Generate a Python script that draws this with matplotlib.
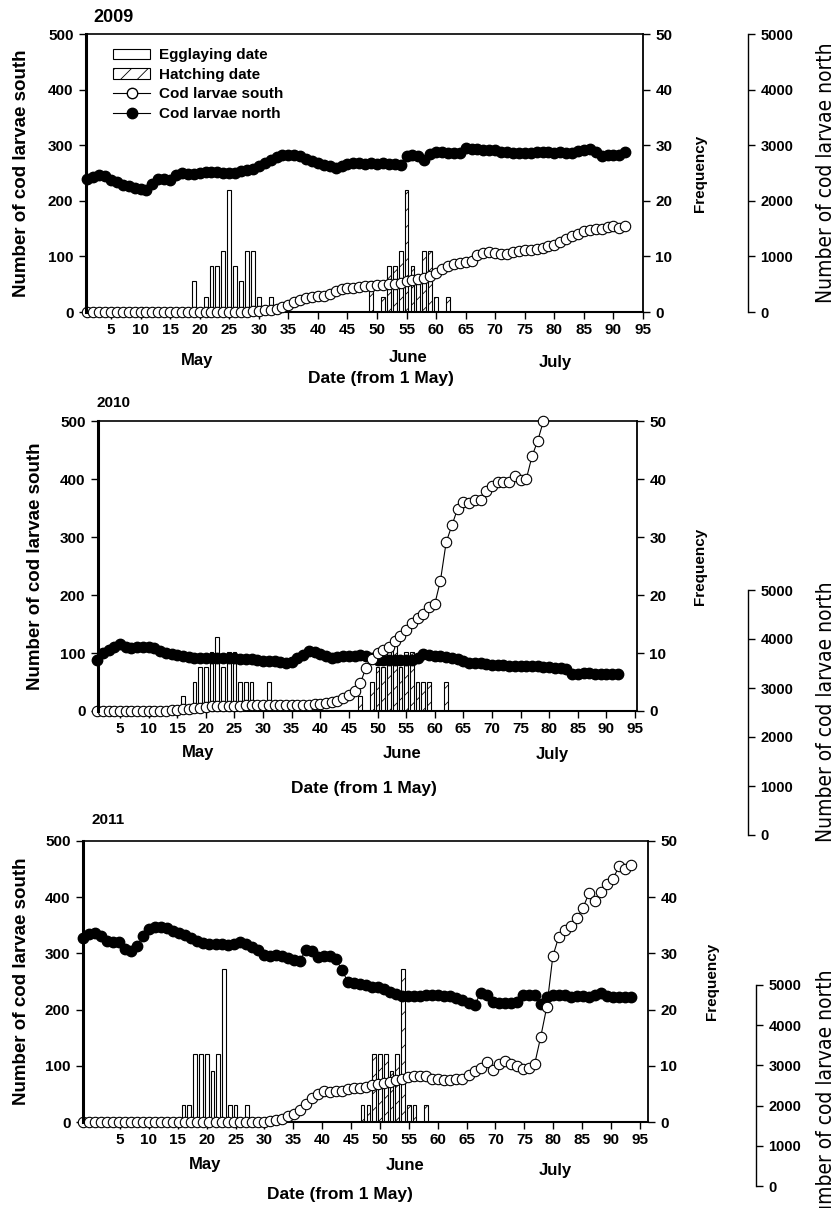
import numpy as np
import matplotlib.pyplot as plt
from matplotlib import font_manager
from matplotlib.font_manager import FontProperties
from matplotlib.lines import Line2D
from matplotlib.patches import Patch

W, H = 837, 1208

plt.rcParams.update({
    "font.family": ["Liberation Sans", "DejaVu Sans"],
    "font.weight": "bold",
    "font.size": 11,
    "hatch.linewidth": 0.6,
    "xtick.direction": "out",
    "ytick.direction": "out",
    "xtick.major.size": 5,
    "ytick.major.size": 5,
    "xtick.major.width": 1.0,
    "ytick.major.width": 1.0,
    "xtick.major.pad": 3,
    "ytick.major.pad": 4,
})

# narrow font for the far right labels, if one is installed
NARROW = {"family": "Liberation Sans", "fontweight": "normal", "fontsize": 15}
try:
    font_manager.findfont("Liberation Sans Narrow", fallback_to_default=False)
    NARROW = {"family": "Liberation Sans Narrow", "fontweight": "normal", "fontsize": 18}
except ValueError:
    path = font_manager.findfont(FontProperties(family="DejaVu Sans", stretch="condensed"))
    if "Condensed" in path:
        NARROW = {"family": "DejaVu Sans", "stretch": "condensed",
                  "fontweight": "normal", "fontsize": 15}

days = np.arange(1, 93)

# ---------------- 2009 ----------------
south_2009 = [0] * 28 + [
    1, 2, 3, 4, 6, 9, 13, 18, 22, 25,
    27, 28, 29, 32, 38, 42, 44, 44, 45, 46,
    47, 48, 49, 50, 51, 53, 55, 57, 59, 62,
    65, 70, 77, 82, 86, 88, 90, 92, 103, 107,
    108, 106, 104, 105, 108, 110, 111, 112, 113, 116,
    118, 120, 126, 131, 136, 141, 145, 148, 149, 149,
    153, 154, 151, 155]
north_2009 = [
    2400, 2430, 2460, 2440, 2380, 2330, 2290, 2260, 2230, 2210,
    2200, 2300, 2390, 2400, 2380, 2460, 2500, 2490, 2490, 2500,
    2520, 2520, 2510, 2500, 2500, 2500, 2530, 2550, 2580, 2630,
    2680, 2730, 2780, 2820, 2830, 2820, 2800, 2760, 2710, 2680,
    2650, 2620, 2590, 2630, 2660, 2680, 2680, 2670, 2680, 2670,
    2680, 2670, 2670, 2650, 2810, 2830, 2810, 2740, 2850, 2870,
    2870, 2860, 2860, 2860, 2950, 2940, 2930, 2920, 2920, 2910,
    2880, 2870, 2860, 2860, 2860, 2860, 2870, 2880, 2870, 2860,
    2870, 2860, 2860, 2900, 2920, 2930, 2880, 2810, 2820, 2830,
    2830, 2880]
egg_days_2009 = [19, 21, 22, 23, 24, 25, 26, 27, 28, 29, 30, 32]
egg_freq_2009 = [5.5, 2.75, 8.25, 8.25, 11, 22, 8.25, 5.5, 11, 11, 2.75, 2.75]
hatch_days_2009 = [49, 51, 52, 53, 54, 55, 56, 57, 58, 59, 60, 62]
hatch_freq_2009 = [5.5, 2.75, 8.25, 8.25, 11, 22, 8.25, 5.5, 11, 11, 2.75, 2.75]

# ---------------- 2010 ----------------
south_days_2010 = np.arange(1, 80)
south_2010 = [0] * 13 + [
    1, 2, 3, 4, 5, 6, 7, 8, 8, 9,
    9, 9, 9, 10, 10, 10, 10, 10, 10, 10,
    10, 11, 11, 11, 11, 12, 12, 13, 15, 18,
    22, 27, 35, 48, 75, 90, 100, 106, 110, 120,
    130, 139, 151, 160, 168, 180, 184, 225, 291, 320,
    349, 360, 359, 363, 364, 380, 388, 395, 395, 395,
    405, 398, 400, 439, 466, 500]
north_2010 = [
    880, 1000, 1060, 1100, 1150, 1110, 1080, 1100, 1110, 1110,
    1080, 1040, 1000, 980, 960, 940, 930, 910, 910, 910,
    910, 910, 910, 910, 910, 900, 900, 890, 880, 870,
    870, 860, 840, 830, 840, 920, 970, 1040, 1020, 980,
    940, 920, 930, 940, 950, 950, 960, 940, 910, 880,
    880, 880, 880, 880, 880, 880, 920, 990, 970, 950,
    940, 930, 920, 900, 860, 830, 820, 820, 810, 800,
    790, 790, 780, 780, 780, 770, 770, 770, 760, 760,
    750, 740, 720, 630, 640, 650, 650, 630, 630, 640,
    630, 640]
egg_days_2010 = [16, 18, 19, 20, 21, 22, 23, 24, 25, 26, 27, 28, 31]
egg_freq_2010 = [2.54, 5.08, 7.62, 7.62, 10.16, 12.7, 7.62, 10.16, 10.16,
                 5.08, 5.08, 5.08, 5.08]
hatch_days_2010 = [47, 49, 50, 51, 52, 53, 54, 55, 56, 57, 58, 59, 62]
hatch_freq_2010 = [2.54, 5.08, 7.62, 7.62, 10.16, 12.7, 7.62, 10.16, 10.16,
                   5.08, 5.08, 5.08, 5.08]

# ---------------- 2011 ----------------
south_2011 = [0] * 31 + [
    1, 3, 6, 10, 15, 22, 32, 42, 50, 55,
    54, 55, 55, 58, 60, 61, 63, 65, 68, 70,
    71, 74, 77, 80, 82, 82, 82, 77, 76, 74,
    75, 76, 76, 83, 91, 96, 106, 92, 104, 109,
    104, 100, 95, 96, 104, 152, 205, 295, 330, 342,
    349, 363, 381, 407, 393, 409, 423, 433, 455, 451,
    457]
north_2011 = [
    3280, 3340, 3360, 3310, 3220, 3200, 3210, 3080, 3050, 3140,
    3310, 3430, 3470, 3470, 3450, 3390, 3370, 3330, 3270, 3220,
    3180, 3170, 3170, 3170, 3150, 3170, 3200, 3170, 3120, 3060,
    2970, 2960, 2980, 2960, 2920, 2880, 2870, 3060, 3040, 2930,
    2960, 2960, 2900, 2700, 2490, 2470, 2460, 2440, 2410, 2400,
    2360, 2310, 2270, 2250, 2240, 2240, 2250, 2260, 2260, 2260,
    2240, 2250, 2210, 2170, 2110, 2080, 2290, 2260, 2140, 2110,
    2110, 2110, 2140, 2260, 2260, 2260, 2100, 2230, 2260, 2260,
    2260, 2230, 2240, 2240, 2230, 2260, 2290, 2240, 2230, 2230,
    2220, 2220]
egg_days_2011 = [16, 17, 18, 19, 20, 21, 22, 23, 24, 25, 27]
egg_freq_2011 = [3.03, 3.03, 12.12, 12.12, 12.12, 9.09, 12.12, 27.27, 3.03, 3.03, 3.03]
hatch_days_2011 = [47, 48, 49, 50, 51, 52, 53, 54, 55, 56, 58]
hatch_freq_2011 = [3.03, 3.03, 12.12, 12.12, 12.12, 9.09, 12.12, 27.27, 3.03, 3.03, 3.03]

fig = plt.figure(figsize=(W / 100, H / 100), dpi=100)


def box(left, top, right, bottom):
    return [left / W, 1 - bottom / H, (right - left) / W, (bottom - top) / H]


def ftext(x, y, s, **kw):
    kw.setdefault("ha", "center")
    kw.setdefault("va", "center")
    fig.text(x / W, 1 - y / H, s, **kw)


def draw_panel(frame, xlim, line_xlim, south_days, south, north,
               egg_d, egg_f, hatch_d, hatch_f, north_axis):
    rect = box(*frame)
    axb = fig.add_axes(rect)
    axb.bar(egg_d, egg_f, width=0.65, color="white", edgecolor="black", linewidth=0.8)
    axb.bar(hatch_d, hatch_f, width=0.65, color="white", edgecolor="black",
            linewidth=0.8, hatch="//")
    axb.set_xlim(*xlim)
    axb.set_ylim(0, 50)
    axb.set_xticks(np.arange(5, 100, 5))
    axb.set_yticks(np.arange(0, 60, 10))
    axb.yaxis.tick_right()
    axb.spines["left"].set_visible(False)
    axb.spines["bottom"].set_linewidth(1.5)
    axb.spines["top"].set_linewidth(1.2)
    axb.spines["right"].set_linewidth(1.3)

    axl = fig.add_axes(rect, facecolor="none")
    axl.plot(days, np.asarray(north) / 10, color="black", lw=0.8, marker="o",
             ms=7.5, mfc="black", mec="black", clip_on=False)
    axl.plot(south_days, south, color="black", lw=0.8, marker="o",
             ms=7.5, mfc="white", mec="black", mew=0.8, clip_on=False)
    axl.set_xlim(*line_xlim)
    axl.set_ylim(0, 500)
    axl.set_yticks(np.arange(0, 600, 100))
    axl.xaxis.set_visible(False)
    for s in ("top", "right", "bottom"):
        axl.spines[s].set_visible(False)
    axl.spines["left"].set_linewidth(2.2)

    # stand-alone axis for the north counts, placed as in the original figure
    x_sp, top, bot = north_axis
    axn = fig.add_axes(box(x_sp - 1, top, x_sp, bot), facecolor="none")
    axn.set_ylim(0, 5000)
    axn.set_yticks(np.arange(0, 6000, 1000))
    axn.tick_params(axis="y", labelsize=10.5)
    axn.yaxis.tick_right()
    axn.xaxis.set_visible(False)
    for s in ("top", "left", "bottom"):
        axn.spines[s].set_visible(False)
    axn.spines["right"].set_linewidth(1.0)
    return axb, axl


# 2009
axb, axl = draw_panel((86, 34, 643, 312), (0.77, 95), (0.77, 95), days, south_2009, north_2009,
                      egg_days_2009, egg_freq_2009, hatch_days_2009, hatch_freq_2009,
                      (748, 34, 312))
handles = [Patch(facecolor="white", edgecolor="black", lw=0.8),
           Patch(facecolor="white", edgecolor="black", lw=0.8, hatch="//"),
           Line2D([], [], color="black", lw=0.8, marker="o", ms=7.5, mfc="white", mec="black"),
           Line2D([], [], color="black", lw=0.8, marker="o", ms=7.5, mfc="black", mec="black")]
labels = ["Egglaying date", "Hatching date", "Cod larvae south", "Cod larvae north"]
axl.legend(handles, labels, loc="upper left", bbox_to_anchor=(0.038, 0.97), frameon=False,
           handlelength=2.4, handleheight=0.65, labelspacing=0.36, borderaxespad=0,
           handletextpad=0.6, fontsize=11)
ftext(114, 17, "2009", fontsize=13)
ftext(197, 360, "May", fontsize=12)
ftext(408, 358, "June", fontsize=12)
ftext(555, 363, "July", fontsize=12)
ftext(381, 378, "Date (from 1 May)", fontsize=12.5)
ftext(22, 173, "Number of cod larvae south", rotation=90, fontsize=13.5)
ftext(700, 173, "Frequency", rotation=90, fontsize=11)
ftext(826, 173, "Number of cod larvae north", rotation=90, **NARROW)

# 2010
draw_panel((98, 421, 637, 711), (1.15, 95.35), (1.15, 95.35), south_days_2010, south_2010,
           north_2010, egg_days_2010, egg_freq_2010, hatch_days_2010, hatch_freq_2010,
           (748, 590, 835))
ftext(114, 403, "2010", fontsize=11)
ftext(198, 753, "May", fontsize=12)
ftext(402, 753, "June", fontsize=12)
ftext(552, 755, "July", fontsize=12)
ftext(364, 788, "Date (from 1 May)", fontsize=12.5)
ftext(36, 566, "Number of cod larvae south", rotation=90, fontsize=13.5)
ftext(700, 566, "Frequency", rotation=90, fontsize=11)
ftext(826, 712, "Number of cod larvae north", rotation=90, **NARROW)

# 2011
draw_panel((83, 841, 648, 1122), (-1.4, 96.4), (1, 94.8), days, south_2011, north_2011,
           egg_days_2011, egg_freq_2011, hatch_days_2011, hatch_freq_2011,
           (756, 985, 1186))
ftext(108, 820, "2011", fontsize=11)
ftext(205, 1165, "May", fontsize=12)
ftext(405, 1165, "June", fontsize=12)
ftext(555, 1170, "July", fontsize=12)
ftext(340, 1195, "Date (from 1 May)", fontsize=12.5)
ftext(22, 981, "Number of cod larvae south", rotation=90, fontsize=13.5)
ftext(712, 981, "Frequency", rotation=90, fontsize=11)
ftext(826, 1100, "Number of cod larvae north", rotation=90, **NARROW)

fig.savefig("out.png", dpi=100)
